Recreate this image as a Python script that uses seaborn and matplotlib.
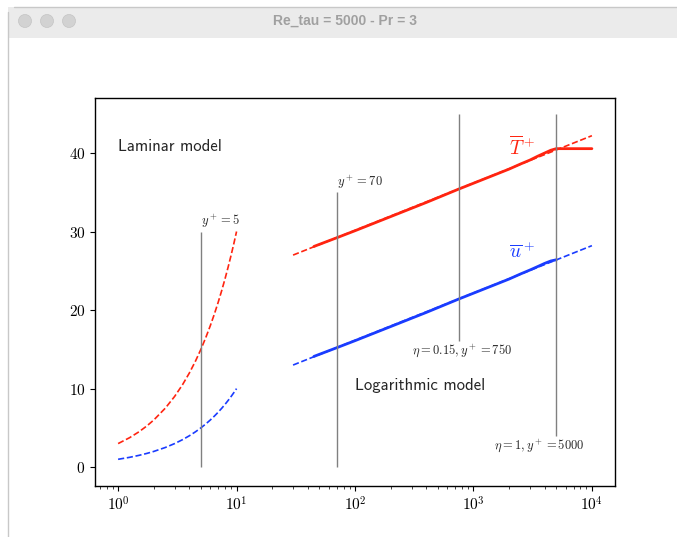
import numpy as np
import pandas as pd
import matplotlib
matplotlib.use("Agg")
import matplotlib.pyplot as plt
import seaborn as sns
from matplotlib.patches import Rectangle, Ellipse
from matplotlib.lines import Line2D

# laminar model (viscous / conductive sublayer), y+ from 1 to 10
lam_y = [1, 1.25, 1.5, 1.75, 2, 2.5, 3, 3.5, 4, 4.5, 5, 5.5, 6, 6.5, 7, 7.5, 8, 8.5, 9, 9.5, 10]
lam_u = [1, 1.25, 1.5, 1.75, 2, 2.5, 3, 3.5, 4, 4.5, 5, 5.5, 6, 6.5, 7, 7.5, 8, 8.5, 9, 9.5, 10]
lam_T = [3, 3.75, 4.5, 5.25, 6, 7.5, 9, 10.5, 12, 13.5, 15, 16.5, 18, 19.5, 21, 22.5, 24, 25.5,
         27, 28.5, 30]

# logarithmic model (straight in log x)
log_y = [30, 10000]
log_u = [13.0, 28.2]
log_T = [27.0, 42.2]

# DNS profiles
dns_y = [45, 70, 100, 200, 400, 750, 1500, 2000, 2500, 3000, 3500, 4000, 4500, 5000]
dns_u = [14.1, 15.2, 16.1, 17.9, 19.7, 21.4, 23.2, 23.95, 24.6, 25.1, 25.55, 25.95, 26.25, 26.4]
dnsT_y = [45, 70, 100, 200, 400, 750, 1500, 2000, 2500, 3000, 3500, 4000, 4500, 5000, 10000]
dns_T = [28.1, 29.2, 30.1, 31.9, 33.7, 35.4, 37.2, 37.95, 38.6, 39.1, 39.6, 40.0, 40.35, 40.55,
         40.55]

# reference lines
vline_x = [5, 70, 750, 5000]
vline_lo = [0, 0, 16, 4]
vline_hi = [30, 35, 45, 45]

RED = "#ff2410"
BLUE = "#1a3cff"

sns.set_style("ticks")
plt.rcParams["font.family"] = "cmr10"
plt.rcParams["mathtext.fontset"] = "cm"
plt.rcParams["axes.formatter.use_mathtext"] = True

fig = plt.figure(figsize=(6.77, 5.37), dpi=100)
fig.patch.set_facecolor("white")

# window chrome
fig.patches.append(Rectangle((8 / 677, 1 - 38 / 537), 1, 31 / 537, transform=fig.transFigure,
                             facecolor="#ebebeb", edgecolor="none", zorder=0))
fig.lines.append(Line2D([8 / 677, 8 / 677], [0, 1 - 12 / 537], transform=fig.transFigure,
                        color="#c8c8c8", lw=1))
fig.lines.append(Line2D([14 / 677, 1], [1 - 7 / 537, 1 - 7 / 537], transform=fig.transFigure,
                        color="#c8c8c8", lw=1))
for cx in [25, 47, 69]:
    fig.patches.append(Ellipse((cx / 677, 1 - 21 / 537), 13 / 677, 13 / 537,
                               transform=fig.transFigure, facecolor="#d2d2d2",
                               edgecolor="#c4c4c4", lw=0.5))
fig.text(345 / 677, 1 - 21 / 537, "Re_tau = 5000 - Pr = 3", ha="center", va="center",
         color="#a0a0a0", fontsize=10, fontweight="bold", family="Liberation Sans")

ax = fig.add_axes([95 / 677, 51 / 537, 520 / 677, 388 / 537])

sns.lineplot(x=lam_y, y=lam_u, ax=ax, color=BLUE, linestyle="--", lw=1.2)
sns.lineplot(x=lam_y, y=lam_T, ax=ax, color=RED, linestyle="--", lw=1.2)
sns.lineplot(x=log_y, y=log_u, ax=ax, color=BLUE, linestyle="--", lw=1.2)
sns.lineplot(x=log_y, y=log_T, ax=ax, color=RED, linestyle="--", lw=1.2)
sns.lineplot(x=dns_y, y=dns_u, ax=ax, color=BLUE, lw=2)
sns.lineplot(x=dnsT_y, y=dns_T, ax=ax, color=RED, lw=2)

ax.vlines(vline_x, vline_lo, vline_hi, color="gray", lw=1)
ax.set_xscale("log")
ax.set_xlim(10 ** -0.195, 10 ** 4.195)
ax.set_ylim(-2.4, 47.0)
ax.set_yticks([0, 10, 20, 30, 40])

ax.text(5, 30.8, r"$y^+=5$", fontsize=9)
ax.text(70, 35.8, r"$y^+=70$", fontsize=9)
ax.text(300, 14.4, r"$\eta=0.15, y^+=750$", fontsize=9)
ax.text(1500, 2.3, r"$\eta=1, y^+=5000$", fontsize=9)
ax.text(1, 40.2, "Laminar model", family="cmss10", fontsize=12)
ax.text(100, 9.8, "Logarithmic model", family="cmss10", fontsize=12)
ax.text(2000, 39.8, r"$\overline{T}^+$", color=RED, fontsize=14)
ax.text(2000, 26.6, r"$\overline{u}^+$", color=BLUE, fontsize=14)

for s in ax.spines.values():
    s.set_color("black")
    s.set_linewidth(1)
ax.tick_params(labelsize=11, colors="black")

fig.savefig("out.png", dpi=100)
